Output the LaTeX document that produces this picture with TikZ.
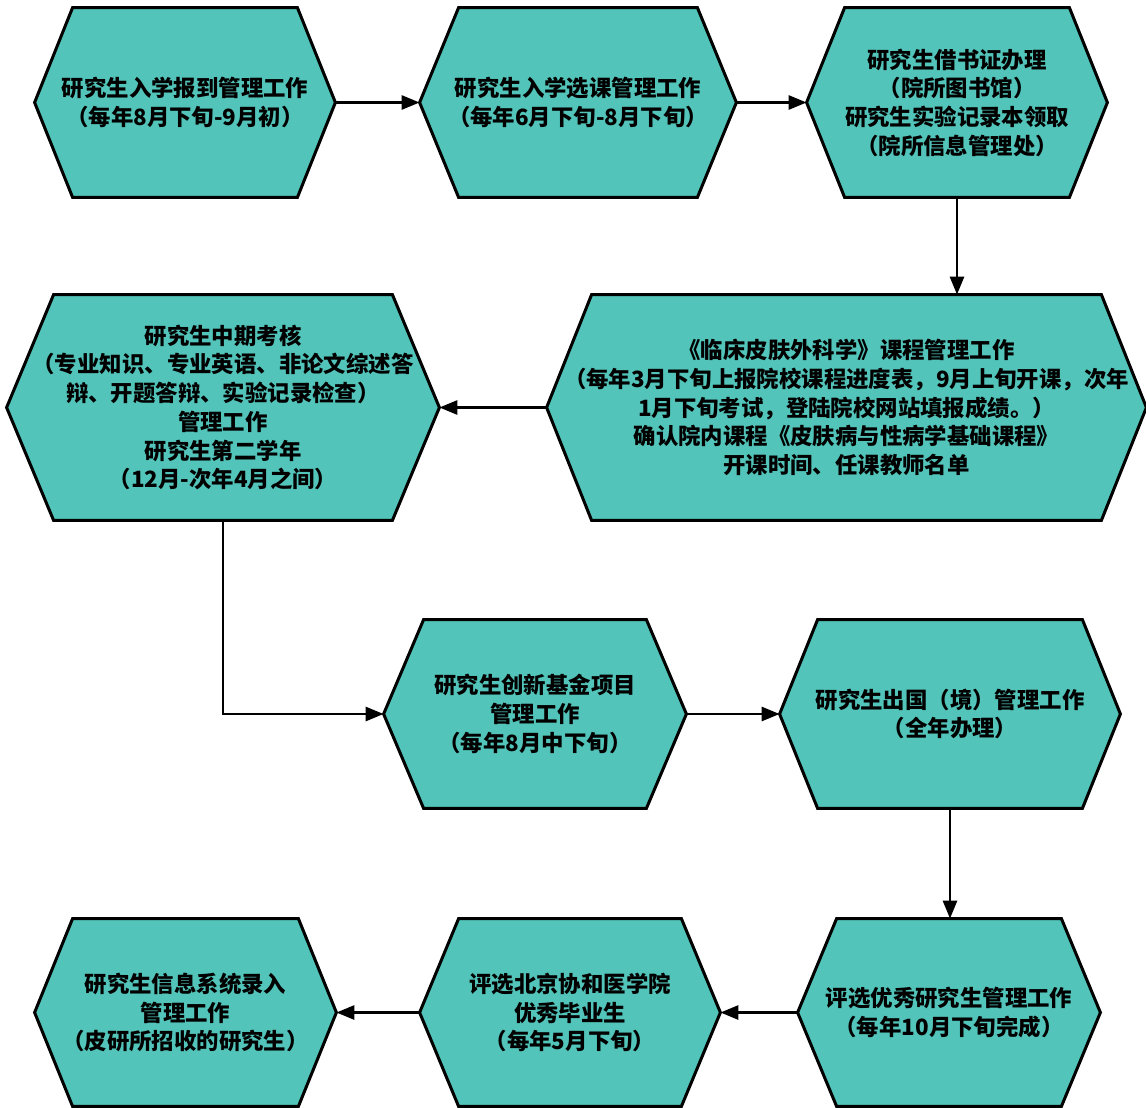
\documentclass[tikz,border=0pt]{standalone}
\usepackage{fontspec}
\setmainfont{Noto Sans CJK SC}
\usetikzlibrary{arrows.meta,backgrounds}
\definecolor{hexfill}{RGB}{82,196,186}

% hexagon: name, x, y, width, height, inset, text
\newcommand\hexnode[7]{%
  \node[hexbox,minimum width=#4*0.5pt,minimum height=#5*0.5pt] (#1) at (#2,#3) {#7};
  \begin{pgfonlayer}{background}
  \draw[hexline] (#1.west) -- ([xshift=#6*0.5pt]#1.north west) -- ([xshift=-#6*0.5pt]#1.north east)
    -- (#1.east) -- ([xshift=-#6*0.5pt]#1.south east) -- ([xshift=#6*0.5pt]#1.south west) -- cycle;
  \end{pgfonlayer}}

\begin{document}
\begin{tikzpicture}[x=0.5pt,y=-0.5pt,
    hexbox/.style={inner sep=0pt,align=center,font=\fontsize{11.2}{14.35}\selectfont\bfseries},
    hexline/.style={line width=1.5pt,fill=hexfill,line join=miter},
    flow/.style={line width=1.4pt,-{Triangle[length=9pt,width=7pt]}}]
\useasboundingbox (0,0) rectangle (1146,1108);

% row 1
\hexnode{enrol}{185}{102.5}{300}{189}{38}{研究生入学报到管理工作\\（每年8月下旬-9月初）}
\hexnode{course}{578}{102.5}{316}{189}{39}{研究生入学选课管理工作\\（每年6月下旬-8月下旬）}
\hexnode{library}{957}{102.5}{300}{189}{38}{研究生借书证办理\\（院所图书馆）\\研究生实验记录本领取\\（院所信息管理处）}
% row 2
\hexnode{surgery}{846.5}{407.5}{599}{225}{45}{《临床皮肤外科学》课程管理工作\\（每年3月下旬上报院校课程进度表，9月上旬开课，次年\\1月下旬考试，登陆院校网站填报成绩。）\\确认院内课程《皮肤病与性病学基础课程》\\开课时间、任课教师名单}
\hexnode{midterm}{223}{407.5}{432}{225}{47}{研究生中期考核\\（专业知识、专业英语、非论文综述答\\辩、开题答辩、实验记录检查）\\管理工作\\研究生第二学年\\（12月-次年4月之间）}
% row 3
\hexnode{fund}{535}{714}{302}{188}{40}{研究生创新基金项目\\管理工作\\（每年8月中下旬）}
\hexnode{abroad}{950}{714}{340}{188}{38}{研究生出国（境）管理工作\\（全年办理）}
% row 4
\hexnode{award}{949}{1012.5}{302}{187}{39}{评选优秀研究生管理工作\\（每年10月下旬完成）}
\hexnode{pumc}{570}{1012.5}{300}{187}{39}{评选北京协和医学院\\优秀毕业生\\（每年5月下旬）}
\hexnode{record}{185.5}{1012.5}{301}{187}{38}{研究生信息系统录入\\管理工作\\（皮研所招收的研究生）}

% connectors
\draw[flow] (enrol.east) -- (course.west);
\draw[flow] (course.east) -- (library.west);
\draw[flow] (library.south) -- (library.south |- surgery.north);
\draw[flow] (surgery.west) -- (midterm.east);
\draw[flow] (midterm.south) |- (fund.west);
\draw[flow] (fund.east) -- (abroad.west);
\draw[flow] (abroad.south) -- (abroad.south |- award.north);
\draw[flow] (award.west) -- (pumc.east);
\draw[flow] (pumc.west) -- (record.east);
\end{tikzpicture}
\end{document}
